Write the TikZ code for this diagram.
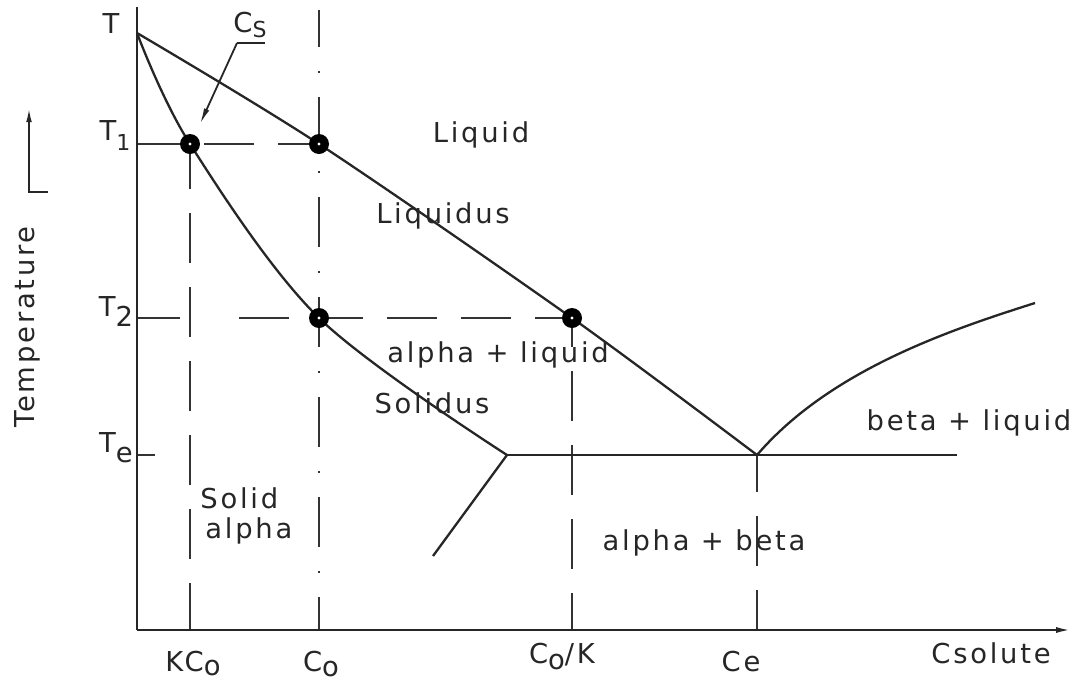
\documentclass[tikz,border=0pt]{standalone}
\usepackage{fontspec}
\newfontfamily\plotfont[LetterSpace=10]{DejaVu Sans}
\usetikzlibrary{arrows.meta}
\begin{document}
\begin{tikzpicture}[x=0.5pt,y=-0.5pt,
  lbl/.style={font=\plotfont\fontsize{13.7}{16}\selectfont, inner sep=0pt, text=black!85, anchor=base},
  axisline/.style={line width=1.2pt, draw=black!85},
  curveline/.style={line width=1.15pt, draw=black!85},
  guide/.style={line width=0.9pt, draw=black!80, dash pattern=on 25pt off 12pt},
  dashdotline/.style={line width=0.9pt, draw=black!80, dash pattern=on 25pt off 12pt on 1pt off 12pt},
  dotnode/.style={circle, fill=black, minimum size=10pt, inner sep=0pt},
  tip/.style={-{Latex[length=8pt,width=3pt]}}]
\useasboundingbox (0,0) rectangle (1083,681);
% coordinates
\coordinate (O) at (137,630);
\coordinate (Ytop) at (137,7);
\coordinate (Xend) at (1072,630);
\coordinate (Tm) at (137,33);
\coordinate (P) at (507,455);
\coordinate (E) at (757,455);
\coordinate (Eright) at (957,455);
\coordinate (Sv) at (433,556);
\coordinate (Bl) at (1035,303);
\coordinate (aT1) at (137,144);
\coordinate (aT2) at (137,318);
\coordinate (mT2) at (180,318);
\coordinate (nT2) at (230,318);
\coordinate (aTe) at (137,455);
\coordinate (tTe) at (155,455);
\coordinate (bK) at (190,630);
\coordinate (bC) at (319,630);
\coordinate (tC) at (319,10);
\coordinate (bCK) at (572,630);
\coordinate (bE) at (757,630);
% guide lines
\draw[guide, dash phase=4.5pt] (319,144) -- (aT1);
\draw[guide, dash phase=6.5pt] (572,318) -- (nT2);
\draw[line width=0.9pt, draw=black!80] (aT2) -- (mT2);
\draw[guide, dash phase=1.5pt] (bK) -- (190,144);
\draw[dashdotline, dash phase=6.5pt] (tC) -- (bC);
\draw[guide, dash phase=6.5pt] (bCK) -- (572,318);
\draw[guide, dash phase=5pt] (bE) -- (E);
\draw[line width=0.9pt, draw=black!80] (aTe) -- (tTe);
% axes
\draw[axisline] (Ytop) -- (O);
\draw[axisline, tip] (O) -- (Xend);
% curves
\draw[curveline] plot[smooth, tension=0.5] coordinates {(137,33) (319,144) (572,318) (757,455)};
\draw[curveline] plot[smooth, tension=0.55] coordinates {(137,33) (190,144) (319,318) (507,455)};
\draw[curveline] (P) -- (Sv);
\draw[curveline] (P) -- (Eright);
\draw[curveline] (E) .. controls (830,370) and (950,330) .. (Bl);
% dots
\node[dotnode] (d1) at (190,144) {};
\node[dotnode] (d2) at (319,144) {};
\node[dotnode] (d3) at (319,318) {};
\node[dotnode] (d4) at (572,318) {};
\foreach \d in {d1,d2,d3,d4} \fill[white] (\d.center) circle (1.6);
% Cs pointer
\node[lbl] (cs) at (250,32) {C\raisebox{-2.5pt}{\fontsize{11}{12}\selectfont S}};
\coordinate (csA) at (265,43);
\coordinate (csB) at (237,43);
\coordinate (csTip) at (200,124);
\draw[line width=0.9pt, draw=black!85] (csA) -- (csB);
\draw[line width=0.9pt, draw=black!85, -{Latex[length=8pt,width=2.8pt]}] (csB) -- (csTip);
% temperature arrow
\coordinate (ta1) at (48,192);
\coordinate (ta2) at (29,192);
\coordinate (ta3) at (29,108);
\draw[line width=0.9pt, draw=black!85, -{Latex[length=7pt,width=2.8pt]}] (ta1) -- (ta2) -- (ta3);
\node[lbl, anchor=center, rotate=90] (temp) at (27,327) {Temperature};
% axis labels
\node[lbl] (lT) at (111,33) {T};
\node[lbl] (lT1) at (115,140) {T\raisebox{-5pt}{\fontsize{11}{12}\selectfont 1}};
\node[lbl] (lT2) at (116,316) {T\raisebox{-5pt}{2}};
\node[lbl] (lTe) at (116,452) {T\raisebox{-5pt}{e}};
\node[lbl] (lKC) at (193,671) {KC\raisebox{-2pt}{o}};
\node[lbl] (lC) at (321,671) {C\raisebox{-2.5pt}{o}};
\node[lbl] (lCK) at (562,663) {C\raisebox{-3pt}{o}/K};
\node[lbl] (lCe) at (741,671) {Ce};
\node[lbl] (lCs) at (991,663) {Csolute};
% region labels
\node[lbl] (liq) at (481,142) {Liquid};
\node[lbl] (liqus) at (443,223) {Liquidus};
\node[lbl] (al) at (498,362) {alpha + liquid};
\node[lbl] (sol) at (432,413) {Solidus};
\node[lbl, anchor=base west] (sa1) at (200,508) {Solid};
\node[lbl, anchor=base west] (sa2) at (205,538) {alpha};
\node[lbl] (ab) at (704,550) {alpha + beta};
\node[lbl] (bl) at (969,430) {beta + liquid};
\end{tikzpicture}
\end{document}
